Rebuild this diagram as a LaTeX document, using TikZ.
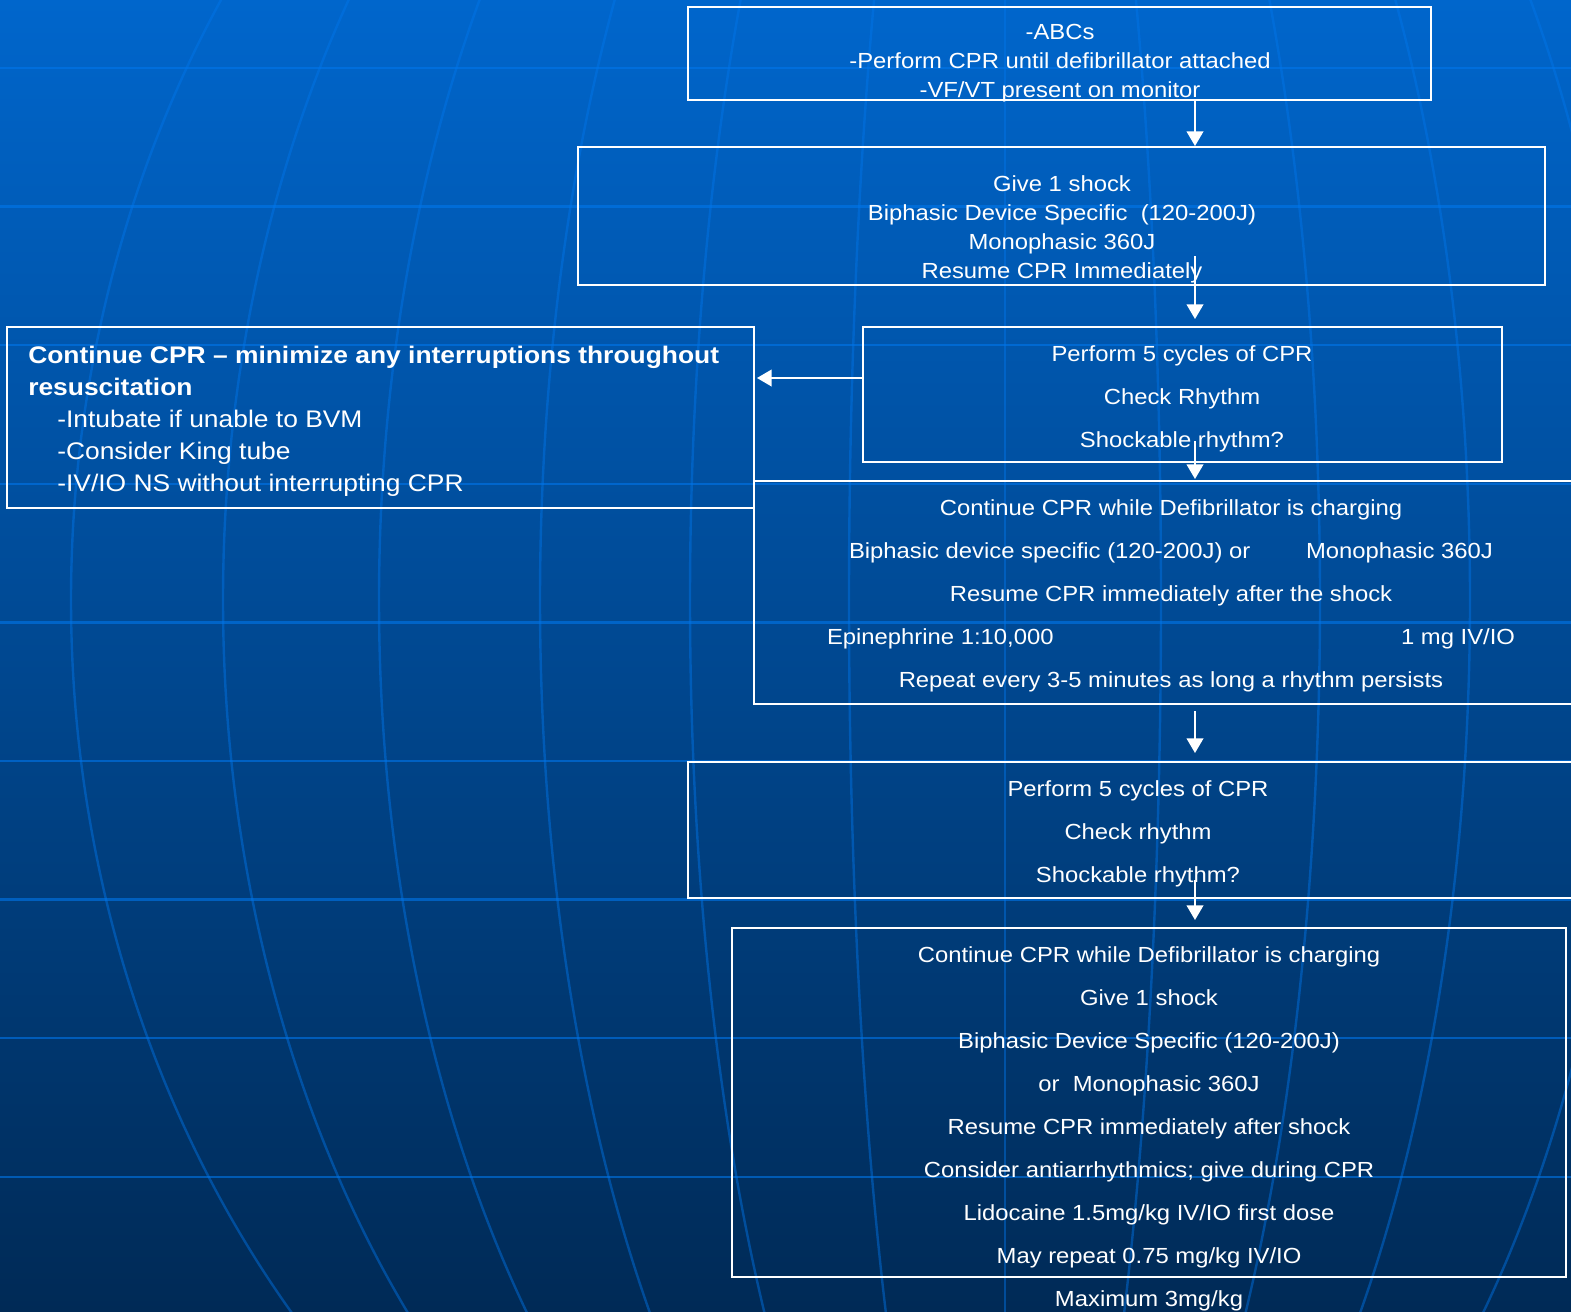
\documentclass[tikz,border=0pt]{standalone}
\usepackage{fontspec}
\usetikzlibrary{arrows.meta,fit}
\newfontfamily\boxfam[FakeStretch=1.09]{Liberation Sans}
\newfontfamily\leftfam[FakeStretch=1.1]{Liberation Sans}
\newcommand\boxtxt{\boxfam\fontsize{16.4pt}{19pt}\selectfont}
\newcommand\lefttxt{\leftfam\fontsize{18pt}{21pt}\selectfont}
\definecolor{bgtop}{RGB}{0,102,204}
\definecolor{bgmid}{RGB}{0,74,150}
\definecolor{bgbot}{RGB}{0,42,86}
\definecolor{gridc}{RGB}{0,118,235}
\tikzset{
  box/.style={draw=white, line width=1.5pt, inner sep=0pt, rectangle},
  ct/.style={text=white, font=\boxtxt, inner sep=0pt, anchor=base},
  lt/.style={text=white, font=\lefttxt, inner sep=0pt, anchor=base west},
  arr/.style={draw=white, line width=1.5pt, -{Triangle[width=12.5pt,length=11pt]}},
  gridline/.style={draw=gridc, draw opacity=0.45, line width=1.8pt},
  hgridline/.style={draw=gridc, draw opacity=0.6, line width=1.8pt}
}
\begin{document}
\begin{tikzpicture}[x=0.75pt,y=-0.75pt]
\useasboundingbox (0,0) rectangle (1571,1311);
\clip (0,0) rectangle (1571,1311);
% background
\shade[top color=bgtop, middle color=bgmid, bottom color=bgbot] (0,0) rectangle (1571,1311);
% globe grid
\foreach \k in {0,...,8}
  \draw[hgridline] (-10,68+138.6*\k) -- (1590,68+138.6*\k);
\foreach \o in {-934,-782,-626,-465,-315,-156,0,156,315,465,626,782}
  \draw[gridline] plot[domain=-20:1330, samples=60, smooth] ({1005+(\o)*sqrt(1-((\x-600)/1104)^2)}, \x);

% boxes
\node[box, fit={(688,7) (1431,100)}] (b1) {};
\node[box, fit={(578,147) (1545,285)}] (b2) {};
\node[box, fit={(863,327) (1502,462)}] (b3) {};
\node[box, fit={(7,327) (754,508)}] (bL) {};
\node[box, fit={(754,481) (1590,704)}] (b4) {};
\node[box, fit={(688,762) (1590,898)}] (b5) {};
\node[box, fit={(732,928) (1566,1277)}] (b6) {};

% box 1 text
\node[ct] (t1a) at (1060,39) {-ABCs};
\node[ct] (t1b) at (1060,68) {-Perform CPR until defibrillator attached};
\node[ct] (t1c) at (1060,97) {-VF/VT present on monitor};
% box 2 text
\node[ct] (t2a) at (1062,191.5) {Give 1 shock};
\node[ct] (t2b) at (1062,220.5) {Biphasic Device Specific\ \ (120-200J)};
\node[ct] (t2c) at (1062,249.5) {Monophasic 360J};
\node[ct] (t2d) at (1062,278.5) {Resume CPR Immediately};
% box 3 text
\node[ct] (t3a) at (1182,361) {Perform 5 cycles of CPR};
\node[ct] (t3b) at (1182,404) {Check Rhythm};
\node[ct] (t3c) at (1182,447) {Shockable rhythm?};
% left box text
\node[lt, font=\lefttxt\bfseries] (tLa) at (28,363) {Continue CPR – minimize any interruptions throughout};
\node[lt, font=\lefttxt\bfseries] (tLb) at (28,395) {resuscitation};
\node[lt] (tLc) at (57,427) {-Intubate if unable to BVM};
\node[lt] (tLd) at (57,459) {-Consider King tube};
\node[lt] (tLe) at (57,491) {-IV/IO NS without interrupting CPR};
% box 4 text
\node[ct] (t4a) at (1171,515) {Continue CPR while Defibrillator is charging};
\node[ct] (t4b) at (1171,558) {\makebox[483pt]{Biphasic device specific (120-200J) or\hfill Monophasic 360J}};
\node[ct] (t4c) at (1171,601) {Resume CPR immediately after the shock};
\node[ct] (t4d) at (1171,644) {\makebox[516pt]{Epinephrine 1:10,000\hfill 1 mg IV/IO}};
\node[ct] (t4e) at (1171,687) {Repeat every 3-5 minutes as long a rhythm persists};
% box 5 text
\node[ct] (t5a) at (1138,796) {Perform 5 cycles of CPR};
\node[ct] (t5b) at (1138,839) {Check rhythm};
\node[ct] (t5c) at (1138,882) {Shockable rhythm?};
% box 6 text
\node[ct] (t6a) at (1149,962) {Continue CPR while Defibrillator is charging};
\node[ct] (t6b) at (1149,1005) {Give 1 shock};
\node[ct] (t6c) at (1149,1048) {Biphasic Device Specific (120-200J)};
\node[ct] (t6d) at (1149,1091) {or\ \ Monophasic 360J};
\node[ct] (t6e) at (1149,1134) {Resume CPR immediately after shock};
\node[ct] (t6f) at (1149,1177) {Consider antiarrhythmics; give during CPR};
\node[ct] (t6g) at (1149,1220) {Lidocaine 1.5mg/kg IV/IO first dose};
\node[ct] (t6h) at (1149,1263) {May repeat 0.75 mg/kg IV/IO};
\node[ct] (t6i) at (1149,1306) {Maximum 3mg/kg};

% connectors
\coordinate (ax) at (1195,0);
\coordinate (a2s) at (1195,256);
\coordinate (a2e) at (1195,319);
\coordinate (a3s) at (1195,441);
\coordinate (a3e) at (1195,479);
\coordinate (a4s) at (1195,711);
\coordinate (a4e) at (1195,753);
\coordinate (a5s) at (1195,880);
\coordinate (a5e) at (1195,920);
\coordinate (la) at (0,378);
\draw[arr] (b1.south -| ax) -- (b2.north -| ax);
\draw[arr] (a2s) -- (a2e);
\draw[arr] (a3s) -- (a3e);
\draw[arr] (b3.west |- la) -- ([xshift=1.5pt]bL.east |- la);
\draw[arr] (a4s) -- (a4e);
\draw[arr] (a5s) -- (a5e);
\end{tikzpicture}
\end{document}
